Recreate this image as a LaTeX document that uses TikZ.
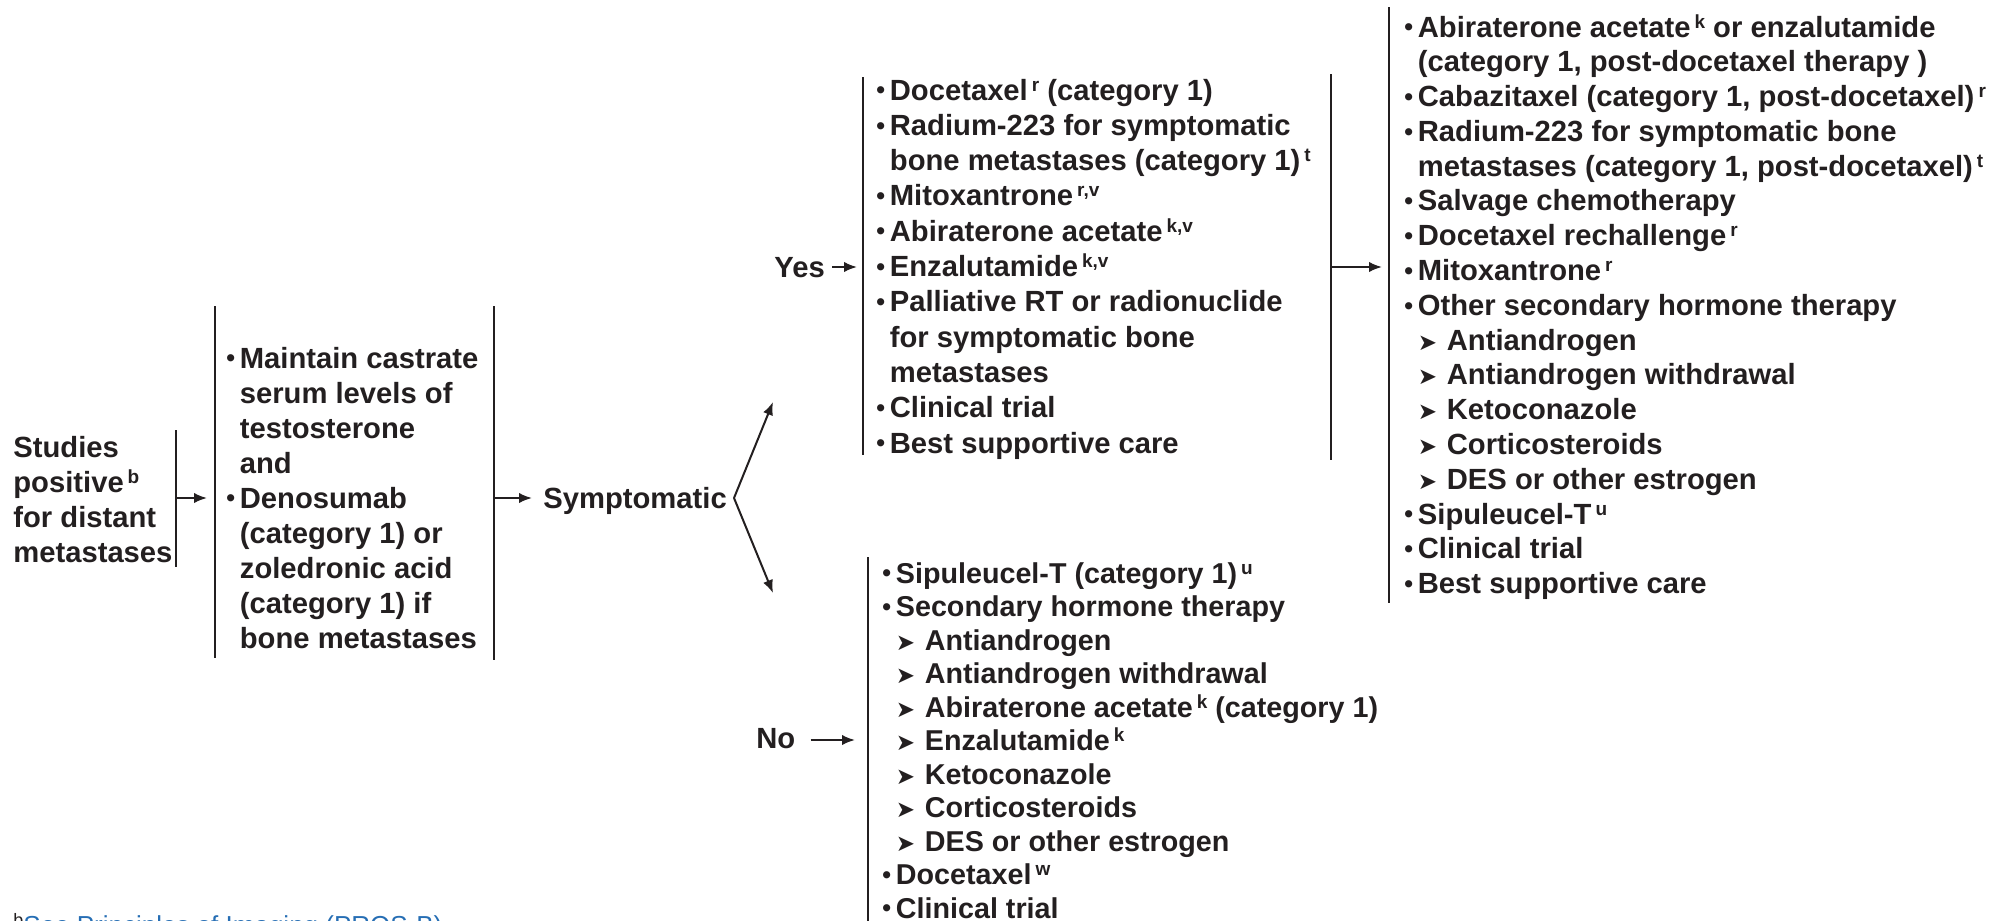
\documentclass[tikz,border=0pt]{standalone}
\usepackage{fontspec}
\setmainfont{Liberation Sans}
\newfontfamily\arrowfont{DejaVu Sans}
\usepackage{tikz}
\usetikzlibrary{positioning,arrows.meta}

\definecolor{ink}{RGB}{35,31,32}
\definecolor{linkblue}{RGB}{38,110,180}

\newcommand{\supx}[1]{\hspace{2pt}\raisebox{4.5pt}{\fontsize{9.5}{9.5}\selectfont #1}}
\newcommand{\itm}{\makebox[6.75pt][l]{\raisebox{0.6pt}{\fontsize{12.5}{12.5}\selectfont\textbullet}}}
\newcommand{\cont}{\hspace*{6.75pt}}
\newcommand{\subitm}{\hspace*{6.75pt}\makebox[14.5pt][l]{\raisebox{0pt}{\arrowfont\fontsize{11.5}{11.5}\selectfont ➤}}}
\newcommand{\lst}[3]{\parbox[t]{320pt}{\fontsize{#1}{#2}\selectfont\bfseries #3}}

\begin{document}
\begin{tikzpicture}[x=0.5pt, y=-0.5pt,
    txt/.style={anchor=base west, inner sep=0pt, text=ink},
    lbl/.style={txt, font=\fontsize{14.6}{17.5}\selectfont\bfseries},
    bar/.style={draw=ink, line width=1.15pt},
    arr/.style={->, >={Latex[length=6.5pt,width=5.2pt]}, draw=ink, line width=1pt}
    ]
        \useasboundingbox (0,0) rectangle (1993,921);
        \clip (0,0) rectangle (1993,921);

        %Nodes
        \node[txt] (studies) at (13,457)
            {\lst{14.6}{17.5pt}{Studies\\positive\supx{b}\\for distant\\metastases}};
        \node[txt] (maint) at (226,368)
            {\lst{14.6}{17.5pt}{\itm Maintain castrate\\ \cont serum levels of\\ \cont testosterone\\ \cont and\\
             \itm Denosumab\\ \cont (category 1) or\\ \cont zoledronic acid\\ \cont (category 1) if\\ \cont bone metastases}};
        \node[lbl] (sympt) at (543,508) {Symptomatic};
        \node[lbl] (yeslbl) at (774,277) {Yes};
        \node[lbl] (nolbl) at (756,748) {No};
        \node[txt] (yeslist) at (876,100)
            {\lst{14.6}{17.65pt}{\itm Docetaxel\supx{r} (category 1)\\
             \itm Radium-223 for symptomatic\\ \cont bone metastases (category 1)\supx{t}\\
             \itm Mitoxantrone\supx{r,v}\\
             \itm Abiraterone acetate\supx{k,v}\\
             \itm Enzalutamide\supx{k,v}\\
             \itm Palliative RT or radionuclide\\ \cont for symptomatic bone\\ \cont metastases\\
             \itm Clinical trial\\
             \itm Best supportive care}};
        \node[txt] (postlist) at (1404,37)
            {\lst{14.6}{17.4pt}{\itm Abiraterone acetate\supx{k} or enzalutamide\\ \cont (category 1, post-docetaxel therapy )\\
             \itm Cabazitaxel (category 1, post-docetaxel)\supx{r}\\
             \itm Radium-223 for symptomatic bone\\ \cont metastases (category 1, post-docetaxel)\supx{t}\\
             \itm Salvage chemotherapy\\
             \itm Docetaxel rechallenge\supx{r}\\
             \itm Mitoxantrone\supx{r}\\
             \itm Other secondary hormone therapy\\
             \subitm Antiandrogen\\ \subitm Antiandrogen withdrawal\\ \subitm Ketoconazole\\
             \subitm Corticosteroids\\ \subitm DES or other estrogen\\
             \itm Sipuleucel-T\supx{u}\\
             \itm Clinical trial\\
             \itm Best supportive care}};
        \node[txt] (nolist) at (882,583)
            {\lst{14.35}{16.75pt}{\itm Sipuleucel-T (category 1)\supx{u}\\
             \itm Secondary hormone therapy\\
             \subitm Antiandrogen\\ \subitm Antiandrogen withdrawal\\
             \subitm Abiraterone acetate\supx{k} (category 1)\\ \subitm Enzalutamide\supx{k}\\
             \subitm Ketoconazole\\ \subitm Corticosteroids\\ \subitm DES or other estrogen\\
             \itm Docetaxel\supx{w}\\
             \itm Clinical trial}};
        \node[txt, font=\fontsize{13}{15}\selectfont] (foot) at (13,934)
            {\raisebox{4pt}{\fontsize{9}{9}\selectfont b}\textcolor{linkblue}{See Principles of Imaging (PROS-B)}};

        %Bars
        \coordinate (stT) at (176,430);  \coordinate (stB) at (176,567);
        \coordinate (mlT) at (215,306);  \coordinate (mlB) at (215,658);
        \coordinate (mrT) at (494,306);  \coordinate (mrB) at (494,660);
        \coordinate (ylT) at (863,77);   \coordinate (ylB) at (863,455);
        \coordinate (yrT) at (1331,74);  \coordinate (yrB) at (1331,460);
        \coordinate (plT) at (1389,7);   \coordinate (plB) at (1389,603);
        \coordinate (nlT) at (868,557);  \coordinate (nlB) at (868,930);
        \draw[bar] (stT) -- (stB);
        \draw[bar] (mlT) -- (mlB);
        \draw[bar] (mrT) -- (mrB);
        \draw[bar] (ylT) -- (ylB);
        \draw[bar] (yrT) -- (yrB);
        \draw[bar] (plT) -- (plB);
        \draw[bar] (nlT) -- (nlB);

        %Lines
        \coordinate (fork) at (734,498);
        \coordinate (upTip) at (773,402);
        \coordinate (dnTip) at (773,593);
        \coordinate (yesY) at (0,267);
        \coordinate (noY) at (0,740);
        \draw[arr] (stT |- fork) -- ([xshift=-4pt]mlT |- fork);
        \draw[arr] (mrT |- fork) -- ([xshift=-5.5pt]sympt.west |- fork);
        \draw[arr] (fork) -- (upTip);
        \draw[arr] (fork) -- (dnTip);
        \draw[arr] ([xshift=3.5pt]yeslbl.east |- yesY) -- ([xshift=-3pt]ylT |- yesY);
        \draw[arr] ([xshift=7.5pt]nolbl.east |- noY) -- ([xshift=-6.5pt]nlT |- noY);
        \draw[arr] (yrT |- yesY) -- ([xshift=-3.5pt]plT |- yesY);
\end{tikzpicture}
\end{document}
